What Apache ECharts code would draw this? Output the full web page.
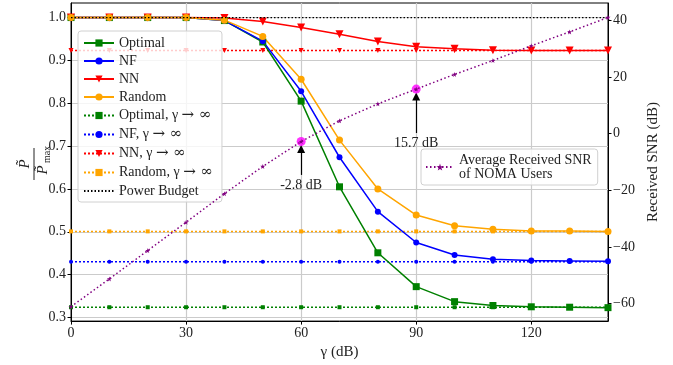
<!DOCTYPE html>
<html>
<head>
<meta charset="utf-8">
<script src="https://cdn.jsdelivr.net/npm/echarts@6/dist/echarts.min.js"></script>
</head>
<body style="margin:0">
<div id="chart" style="width:673px;height:365px"></div>
<script>
// gamma (dB) sweep and normalised power of each scheme
var gamma = [0, 10, 20, 30, 40, 50, 60, 70, 80, 90, 100, 110, 120, 130, 140];
var optimal = [1, 1, 1, 1, 0.993, 0.943, 0.805, 0.605, 0.451, 0.372, 0.337, 0.328, 0.325, 0.324, 0.323];
var nf      = [1, 1, 1, 1, 0.993, 0.945, 0.828, 0.674, 0.547, 0.475, 0.446, 0.436, 0.433, 0.432, 0.431];
var nn      = [1, 1, 1, 1, 0.999, 0.991, 0.977, 0.961, 0.944, 0.932, 0.927, 0.924, 0.923, 0.923, 0.923];
var random  = [1, 1, 1, 1, 0.994, 0.956, 0.856, 0.714, 0.600, 0.539, 0.514, 0.506, 0.502, 0.502, 0.501];

// limits for gamma -> infinity and the power budget
var optimalInf = 0.324;
var nfInf = 0.430;
var nnInf = 0.923;
var randomInf = 0.501;
var powerBudget = 1.0;

// average received SNR of NOMA users (dB), right axis
var snr = [-61.1, -51.3, -41.3, -31.3, -21.2, -11.6, -2.8, 4.5, 10.5, 15.7, 20.9, 25.8, 31.0, 35.9, 41.0];

// highlighted points + where the annotation text sits (dB)
var markGamma = [60, 90];
var markSnr = [-2.8, 15.7];
var markTextSnr = [-14.6, 0.2];

var xTicks = [0, 30, 60, 90, 120];
var yTicks = [0.3, 0.4, 0.5, 0.6, 0.7, 0.8, 0.9, 1.0];
var y2Ticks = [-60, -40, -20, 0, 20, 40];

var FONT = '"Liberation Serif", "DejaVu Serif", serif';
var STAR = 'path://M0,-1L0.2245,-0.309L0.951,-0.309L0.363,0.118L0.588,0.809L0,0.382L-0.588,0.809L-0.363,0.118L-0.951,-0.309L-0.2245,-0.309Z';

function pairs(ys) {
    return gamma.map(function (g, i) { return [g, ys[i]]; });
}
function flat(v) {
    return gamma.map(function (g) { return [g, v]; });
}

function mainLine(name, ys, color, symbol, size, rot) {
    return {
        name: name, type: 'line', data: pairs(ys),
        symbol: symbol, symbolSize: size, symbolRotate: rot || 0,
        itemStyle: { color: color },
        lineStyle: { color: color, width: 1.5 },
        z: 3
    };
}
function limitLine(name, v, color, symbol, size, rot) {
    return {
        name: name, type: 'line', data: flat(v),
        symbol: symbol, symbolSize: size, symbolRotate: rot || 0,
        itemStyle: { color: color },
        lineStyle: { color: color, width: 1.5, type: [2, 2] },
        z: 2
    };
}

var chart = echarts.init(document.getElementById('chart'));

var txt = { fontFamily: FONT, fontSize: 14, color: '#222' };
var legendText = {
    fontFamily: FONT, fontSize: 14, color: '#222', lineHeight: 14,
    rich: { s: { fontFamily: 'DejaVu Serif', fontSize: 15, color: '#222', lineHeight: 14 } }
};
function legendFmt(name) {
    return name.replace('→ ∞', '{s|→ ∞}');
}

var option = {
    animation: false,
    grid: {
        left: 71, right: 65, top: 3, bottom: 43,
        show: true, borderColor: '#000', borderWidth: 1
    },
    legend: [{
        data: ['Optimal', 'NF', 'NN', 'Random',
               'Optimal, γ → ∞', 'NF, γ → ∞', 'NN, γ → ∞', 'Random, γ → ∞', 'Power Budget'],
        orient: 'vertical', left: 78, top: 31,
        itemWidth: 30, itemHeight: 9, itemGap: 4,
        padding: [5, 9, 4, 5],
        backgroundColor: 'rgba(255,255,255,0.8)',
        borderColor: '#d0d0d0', borderWidth: 1, borderRadius: 3,
        selectedMode: false,
        formatter: legendFmt,
        textStyle: legendText
    }, {
        data: ['Average Received SNR\nof NOMA Users'],
        left: 421, top: 149,
        itemWidth: 28, itemHeight: 9,
        padding: [4, 6, 4, 4],
        backgroundColor: 'rgba(255,255,255,0.8)',
        borderColor: '#d0d0d0', borderWidth: 1, borderRadius: 3,
        selectedMode: false,
        textStyle: { fontFamily: FONT, fontSize: 14, color: '#222', lineHeight: 14 }
    }],
    xAxis: {
        type: 'value', min: 0, max: 140,
        name: 'γ (dB)', nameLocation: 'middle', nameGap: 20,
        nameTextStyle: { fontFamily: FONT, fontSize: 15, color: '#222' },
        axisLine: { onZero: false, lineStyle: { color: '#000', width: 1 } },
        axisTick: { show: true, length: 3.5, customValues: xTicks, lineStyle: { color: '#000' } },
        axisLabel: Object.assign({ customValues: xTicks, margin: 5 }, txt),
        splitLine: { show: true, lineStyle: { color: '#cbcbcb', width: 1.2 } }
    },
    yAxis: [{
        type: 'value', min: 0.2916, max: 1.034,
        axisLine: { show: true, lineStyle: { color: '#000', width: 1 } },
        axisTick: { show: true, length: 3.5, customValues: yTicks, lineStyle: { color: '#000' } },
        axisLabel: Object.assign({
            customValues: yTicks, margin: 5,
            formatter: function (v) { return v.toFixed(1); }
        }, txt),
        splitLine: { show: true, lineStyle: { color: '#cbcbcb', width: 1.2 } }
    }, {
        type: 'value', position: 'right', min: -66.2, max: 46.1,
        name: 'Received SNR (dB)', nameLocation: 'middle', nameGap: 28, nameRotate: 90,
        nameTextStyle: { fontFamily: FONT, fontSize: 15, color: '#222' },
        axisLine: { show: true, lineStyle: { color: '#000', width: 1 } },
        axisTick: { show: true, length: 3.5, customValues: y2Ticks, lineStyle: { color: '#000' } },
        axisLabel: Object.assign({
            customValues: y2Ticks, margin: 5,
            formatter: function (v) { return String(v).replace('-', '\u2212'); }
        }, txt),
        splitLine: { show: false }
    }],
    graphic: [{
        type: 'group', x: 34, y: 164, rotation: Math.PI / 2,
        children: [
            { type: 'text', x: 0, y: -9, style: { text: 'P\u0303', font: 'italic 15px ' + FONT, fill: '#222', align: 'center', verticalAlign: 'middle' } },
            { type: 'line', shape: { x1: -16, y1: 0, x2: 16, y2: 0 }, style: { stroke: '#222', lineWidth: 1 } },
            { type: 'text', x: -6, y: 9, style: { text: 'P\u0303', font: 'italic 15px ' + FONT, fill: '#222', align: 'center', verticalAlign: 'middle' } },
            { type: 'text', x: 1, y: 13, style: { text: 'max', font: '10px ' + FONT, fill: '#222', align: 'left', verticalAlign: 'middle' } }
        ]
    }],
    series: [
        mainLine('Optimal', optimal, '#008000', 'rect', 7),
        mainLine('NF', nf, '#0000ff', 'circle', 6),
        mainLine('NN', nn, '#ff0000', 'triangle', 8, 180),
        mainLine('Random', random, '#ffa500', 'circle', 7),
        limitLine('Optimal, γ → ∞', optimalInf, '#008000', 'rect', 4),
        limitLine('NF, γ → ∞', nfInf, '#0000ff', 'circle', 4),
        limitLine('NN, γ → ∞', nnInf, '#ff0000', 'triangle', 5, 180),
        limitLine('Random, γ → ∞', randomInf, '#ffa500', 'rect', 4),
        {
            name: 'Power Budget', type: 'line', data: flat(powerBudget),
            symbol: 'none',
            itemStyle: { color: 'rgba(0,0,0,0)' },
            lineStyle: { color: '#000', width: 1.3, type: [1.5, 2] },
            z: 4
        },
        {
            name: 'highlight', type: 'scatter', yAxisIndex: 1,
            data: markGamma.map(function (g, i) { return [g, markSnr[i]]; }),
            symbol: 'circle', symbolSize: 9,
            itemStyle: { color: '#ff00ff' },
            z: 5,
            markLine: {
                silent: true,
                symbol: ['none', 'triangle'], symbolSize: 8,
                lineStyle: { color: '#000', width: 1.2, type: 'solid' },
                label: {
                    show: true, position: 'start', distance: 3,
                    fontFamily: FONT, fontSize: 14, color: '#222',
                    formatter: function (p) { return p.name; }
                },
                data: markGamma.map(function (g, i) {
                    return [
                        { coord: [g, markTextSnr[i]], name: markSnr[i].toFixed(1) + ' dB' },
                        { coord: [g, markSnr[i] - 2.6] }
                    ];
                })
            }
        },
        {
            name: 'Average Received SNR\nof NOMA Users', type: 'line', yAxisIndex: 1,
            data: pairs(snr),
            symbol: STAR, symbolSize: 5,
            itemStyle: { color: '#800080' },
            lineStyle: { color: '#800080', width: 1.5, type: [1.5, 2.5] },
            z: 6
        }
    ]
};

chart.setOption(option);
</script>
</body>
</html>
